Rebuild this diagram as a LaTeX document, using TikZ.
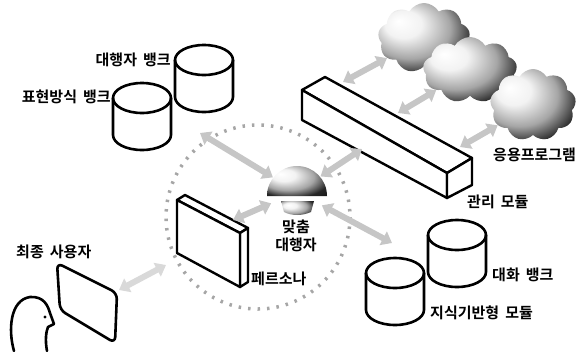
\documentclass[tikz,border=0pt]{standalone}
\usepackage{fontspec}
\setmainfont{Noto Sans CJK KR}[BoldFont={* Bold}, WordSpace=1.8]
\usetikzlibrary{arrows.meta,shapes.symbols}
\pgfdeclareradialshading{glow}{\pgfpoint{-14bp}{12bp}}{color(0bp)=(white); color(10bp)=(white!95!black); color(22bp)=(gray!70); color(32bp)=(black!85); color(50bp)=(black)}

\begin{document}
\begin{tikzpicture}[x=1pt,y=-1pt,
		pen/.style={line width=2.4pt, line join=round, line cap=round},
		drum/.pic={
			\filldraw[pen, line width=2.6pt, fill=white] (-29,0) -- (-29,37) arc (180:0:29 and 15) -- (29,0) arc (0:-180:29 and 15) -- cycle;
			\draw[pen, line width=2.6pt] (-29,0) arc (180:0:29 and 15);
		},
		lbl/.style={font=\fontsize{15}{18}\selectfont\bfseries, inner sep=0pt},
		puff/.style={cloud, cloud puffs=9, cloud puff arc=120, aspect=1.3, shade, shading=glow, inner sep=0pt},
		link/.style={{Triangle[width=15pt,length=10pt]}-{Triangle[width=15pt,length=10pt]}, line width=6pt, draw=gray!45},
		ring/.style={draw=gray!70, line width=3.5pt, dash pattern=on 2.5pt off 7pt}]
				\useasboundingbox (0,0) rectangle (585,351);
				\draw[ring] (258,217) circle (92);
				\node[puff, minimum width=92pt, minimum height=70pt] (app1) at (424,38) {};
				\node[puff, minimum width=94pt, minimum height=66pt] (app2) at (470,70) {};
				\node[puff, minimum width=86pt, minimum height=72pt] (app3) at (533,105) {};
				\coordinate (m1) at (343,82);
				\coordinate (m2) at (398,113);
				\coordinate (m3) at (460,147);
				\draw[link] (app1) -- (m1);
				\draw[link] (app2) -- (m2);
				\draw[link] (app3) -- (m3);
				\filldraw[pen, fill=white] (302,90) -- (325,77) -- (472,158) -- (447,173) -- cycle;
				\filldraw[pen, fill=white] (302,90) -- (302,120) -- (447,198) -- (447,173) -- cycle;
				\filldraw[pen, fill=white] (447,173) -- (472,158) -- (472,185) -- (447,198) -- cycle;
				\pic at (204,60) {drum};
				\pic at (142,98) {drum};
				\pic at (457,235) {drum};
				\pic at (395,273) {drum};
				\node[lbl, anchor=east] (agentsl) at (171,60) {대행자 뱅크};
				\node[lbl, anchor=east] (stylesl) at (111,97) {표현방식 뱅크};
				\node[lbl, anchor=west] (dialogl) at (492,275) {대화 뱅크};
				\node[lbl, anchor=west] (kbasel) at (430,313) {지식기반형 모듈};
				\node[lbl, anchor=west] (appl) at (493,155) {응용프로그램};
				\node[lbl, anchor=west] (modl) at (467,202) {관리 모듈};
				\filldraw[pen, fill=white] (177,200) -- (185,195) -- (248,228) -- (240,233) -- cycle;
				\filldraw[pen, fill=white] (240,233) -- (248,228) -- (248,282) -- (240,287) -- cycle;
				\filldraw[pen, fill=white] (177,200) -- (240,233) -- (240,287) -- (177,253) -- cycle;
				\node[lbl, anchor=west] (perl) at (251,279) {페르소나};
				\node[circle, minimum size=56pt, inner sep=0pt] (agent) at (297,192) {};
				\coordinate (toBanks) at (200,133);
				\coordinate (toMod) at (362,149);
				\coordinate (toKB) at (392,243);
				\coordinate (toPer) at (233,220);
				\draw[link] (agent) -- (toBanks);
				\draw[link] (agent) -- (toMod);
				\draw[link] (agent) -- (toKB);
				\draw[link] (agent) -- (toPer);
				\shade[shading=glow] (267,196) arc (180:360:30) -- cycle;
				\shade[shading=glow] (281,201) -- (314,201) -- (311,212) .. controls (302,216) and (292,216) .. (284,212) -- cycle;
				\node[lbl, align=center] (agentl) at (296,236) {맞춤\\대행자};
				\draw[pen, line width=2.6pt, rounded corners=6pt] (57,263) -- (117,293) -- (115,343) -- (60,310) -- cycle;
				\coordinate (scr) at (119,290);
				\coordinate (per) at (166,265);
				\draw[link, draw=gray!30] (scr) -- (per);
				\node[lbl, anchor=west] (userl) at (16,252) {최종 사용자};
				\draw[pen, line width=2.6pt] (14,351) .. controls (8,330) and (10,300) .. (30,297) .. controls (44,296) and (48,306) .. (50,313) -- (54,324) -- (48,327) .. controls (46,332) and (45,340) .. (47,351);
				\fill (45,317) circle (1.6);
			\end{tikzpicture}
\end{document}
